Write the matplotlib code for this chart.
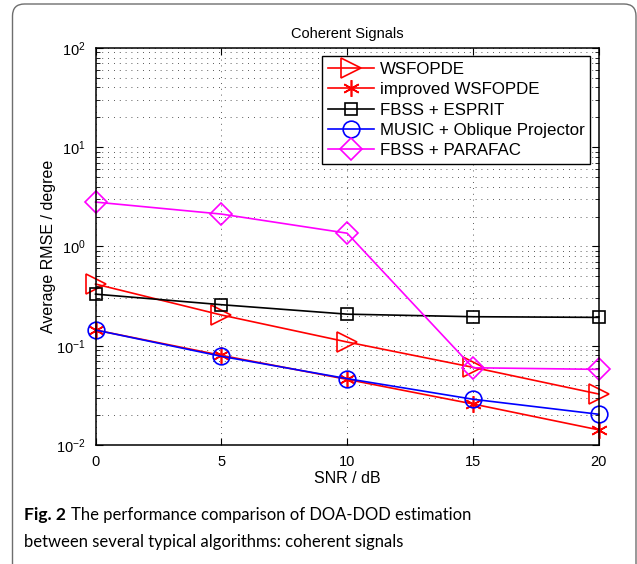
import numpy as np
import matplotlib
matplotlib.use("Agg")
import matplotlib.pyplot as plt
from matplotlib.patches import FancyBboxPatch

snr = [0, 5, 10, 15, 20]
wsfopde = [0.418, 0.204, 0.109, 0.0606, 0.0326]
improved_wsfopde = [0.144, 0.080, 0.0458, 0.0259, 0.0142]
fbss_esprit = [0.331, 0.259, 0.208, 0.196, 0.193]
music_oblique = [0.144, 0.0782, 0.0466, 0.0289, 0.0204]
fbss_parafac = [2.80, 2.12, 1.36, 0.060, 0.0578]

labels = ["WSFOPDE", "improved WSFOPDE", "FBSS + ESPRIT",
          "MUSIC + Oblique Projector", "FBSS + PARAFAC"]

plt.rcParams['font.family'] = ['Liberation Sans', 'DejaVu Sans']
plt.rcParams['mathtext.fontset'] = 'custom'
plt.rcParams['mathtext.rm'] = 'Liberation Sans'

fig = plt.figure(figsize=(6.37, 5.64), dpi=100)
ax = fig.add_axes([0.150, 0.211, 0.790, 0.704])

lw = 1.2
common = dict(lw=lw, mew=lw, clip_on=False)
ax.plot(snr, wsfopde, color='red', marker='>', ms=14, mfc='none', label=labels[0], **common)
ax.plot(snr, improved_wsfopde, color='red', marker=(6, 2, 0), ms=12, label=labels[1], **common)
ax.plot(snr, fbss_esprit, color='black', marker='s', ms=9, mfc='none', label=labels[2], **common)
ax.plot(snr, music_oblique, color='blue', marker='o', ms=12, mfc='none', label=labels[3], **common)
ax.plot(snr, fbss_parafac, color='magenta', marker='D', ms=11, mfc='none', label=labels[4], **common)

ax.set_yscale('log')
ax.set_xlim(0, 20)
ax.set_ylim(1e-2, 1e2)
ax.set_xticks(snr)

dots = (0, (1, 6))
ax.grid(True, which='major', axis='both', color='#222222', lw=0.6, linestyle=dots)
ax.grid(True, which='minor', axis='y', color='#222222', lw=0.6, linestyle=dots)
ax.set_axisbelow(True)

ax.tick_params(which='both', direction='in', top=True, right=True, labelsize=10.5, color='black')
ax.tick_params(which='major', length=5, pad=7)
ax.tick_params(which='minor', length=3)
for s in ax.spines.values():
    s.set_linewidth(1.1)

ax.set_title("Coherent Signals", fontsize=10.5, pad=7)
ax.set_xlabel("SNR / dB", fontsize=11.5, labelpad=2)
ax.set_ylabel("Average RMSE / degree", fontsize=11.5, labelpad=0)

leg = ax.legend(loc='upper right', fontsize=12.2, handlelength=2.7, handletextpad=0.35,
                borderpad=0.35, labelspacing=0.3, fancybox=False, framealpha=1,
                edgecolor='black', borderaxespad=0.5)
leg.get_frame().set_linewidth(1.0)

# rounded panel border around the figure and caption
frame = FancyBboxPatch((0.125, -0.5), 6.235, 6.10,
                       boxstyle="round,pad=0,rounding_size=0.12",
                       transform=fig.dpi_scale_trans, fill=False,
                       edgecolor='#6e6e6e', lw=1.0)
fig.patches.append(frame)

cap_font = ['Lato', 'DejaVu Sans']
cap_size = 12.0
W, H = 637, 564
head = fig.text(24 / W, 1 - 520 / H, "Fig. 2", fontsize=cap_size + 0.6, fontweight='bold',
                family=cap_font, va='baseline')
fig.canvas.draw()
bb = head.get_window_extent()
fig.text((bb.x1 + 5) / W, 1 - 520 / H, "The performance comparison of DOA-DOD estimation",
         fontsize=cap_size, family=cap_font, va='baseline')
fig.text(24 / W, 1 - 547 / H, "between several typical algorithms: coherent signals",
         fontsize=cap_size, family=cap_font, va='baseline')

fig.savefig("out.png", dpi=100)
